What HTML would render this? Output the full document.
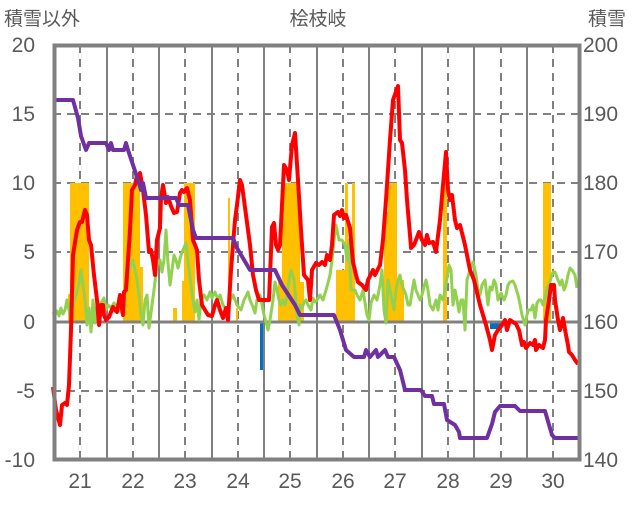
<!DOCTYPE html>
<html><head><meta charset="utf-8"><style>
html,body{margin:0;padding:0;background:#fff;}
svg text{font-family:"Liberation Sans","Noto Sans CJK JP",sans-serif;fill:#595959;}
</style></head><body>
<svg width="636" height="501" viewBox="0 0 636 501" xmlns="http://www.w3.org/2000/svg">
<g font-size="19">
<text x="4" y="25">積雪以外</text>
<text x="318" y="25" text-anchor="middle">桧枝岐</text>
<text x="588" y="25">積雪</text>
</g>
<g font-size="21" text-anchor="end">
<text x="35" y="52">20</text><text x="35" y="121">15</text><text x="35" y="190">10</text>
<text x="35" y="259">5</text><text x="35" y="329">0</text><text x="35" y="398">-5</text><text x="35" y="467">-10</text>
</g>
<g font-size="21">
<text x="583" y="52">200</text><text x="583" y="121">190</text><text x="583" y="190">180</text>
<text x="583" y="259">170</text><text x="583" y="329">160</text><text x="583" y="398">150</text><text x="583" y="467">140</text>
</g>
<g font-size="21" text-anchor="middle">
<text x="80" y="488">21</text><text x="133" y="488">22</text><text x="185" y="488">23</text><text x="238" y="488">24</text><text x="290" y="488">25</text>
<text x="343" y="488">26</text><text x="395" y="488">27</text><text x="448" y="488">28</text><text x="501" y="488">29</text><text x="553" y="488">30</text>
</g>
<g stroke="#808080" stroke-width="2" stroke-dasharray="8,6" fill="none">
<path d="M53 114H580M53 183H580M53 252H580M53 391H580"/>
<path d="M80 45V460M133 45V460M185 45V460M238 45V460M290 45V460M343 45V460M395 45V460M448 45V460M501 45V460M553 45V460"/>
</g>
<g stroke="#808080" stroke-width="2" fill="none">
<path d="M107 45V460M159 45V460M212 45V460M264 45V460M317 45V460M369 45V460M422 45V460M474 45V460M527 45V460"/>
</g>
<g fill="#FFC000">
<rect x="68" y="294" width="2" height="28"/>
<rect x="70" y="183" width="19" height="139"/>
<rect x="123" y="183" width="17" height="139"/>
<rect x="140" y="267" width="3" height="55"/>
<rect x="173" y="308" width="4" height="14"/>
<rect x="182" y="281" width="2" height="41"/>
<rect x="184" y="183" width="11" height="139"/>
<rect x="228" y="198" width="2" height="124"/>
<rect x="236" y="308" width="2" height="14"/>
<rect x="278" y="280" width="4" height="42"/>
<rect x="282" y="183" width="18" height="139"/>
<rect x="300" y="282" width="4" height="40"/>
<rect x="336" y="270" width="9" height="52"/>
<rect x="345" y="183" width="3" height="139"/>
<rect x="348" y="240" width="4" height="82"/>
<rect x="352" y="183" width="3" height="139"/>
<rect x="384" y="212" width="4" height="110"/>
<rect x="388" y="183" width="9" height="139"/>
<rect x="397" y="280" width="7" height="42"/>
<rect x="443" y="183" width="4" height="139"/>
<rect x="543" y="183" width="8" height="139"/>
</g>
<g fill="#0070C0">
<rect x="260" y="322" width="3" height="48"/>
<rect x="490" y="322" width="11" height="7"/>
</g>
<path d="M53 322H580" stroke="#808080" stroke-width="3"/>
<polyline fill="none" stroke="#92D050" stroke-width="3" stroke-linejoin="round" points="53,312 55,315 57,311 59,316 61,308 63,314 65,310 67,300 70,315 73,305 76,295 79,283 81,270 83,285 85,300 87,325 89,308 91,332 93,300 95,323 97,305 99,315 101,303 104,298 106,310 108,305 111,308 114,303 117,308 119,305 121,312 123,300 125,290 127,275 130,268 133,260 135,270 137,280 139,295 141,315 143,325 145,300 147,295 149,328 152,305 154,290 157,265 160,260 162,272 164,260 166,230 168,263 170,285 172,270 174,255 176,260 178,268 181,255 183,250 186,243 189,270 191,285 193,300 195,312 197,300 199,320 201,300 204,295 207,300 210,292 212,298 215,292 218,300 220,295 223,305 226,310 229,305 231,298 233,295 237,305 241,310 244,300 248,292 250,300 253,307 255,313 257,300 260,295 262,305 264,315 266,322 268,330 270,320 273,300 275,282 277,290 279,300 281,305 283,300 285,305 287,296 289,280 291,270 294,280 297,315 299,325 300,305 302,308 304,303 306,300 308,305 311,310 313,298 315,302 317,300 320,295 323,300 326,290 328,283 330,275 332,260 334,240 336,225 339,240 342,240 345,245 347,260 349,240 351,290 353,290 355,290 357,295 360,300 363,290 365,303 367,315 369,320 371,303 374,295 377,300 380,285 382,270 384,310 386,323 388,280 390,290 392,300 394,310 396,290 398,280 400,275 402,285 404,290 406,295 408,305 410,305 412,292 414,280 416,290 418,295 420,300 422,295 424,287 426,280 428,290 430,305 433,310 436,300 438,310 440,295 443,300 445,290 447,278 449,265 451,270 453,305 455,290 457,300 459,312 461,300 463,300 465,330 467,280 470,270 473,262 476,275 478,290 480,295 482,285 485,280 488,305 490,287 492,290 494,280 496,285 498,300 501,293 504,300 506,295 508,285 510,282 513,281 515,285 518,295 520,304 522,315 525,325 528,310 531,310 533,305 535,318 537,303 539,300 541,300 543,305 545,298 547,288 549,285 551,278 553,272 555,272 558,280 560,285 562,280 564,290 566,285 568,275 570,268 572,270 575,275 577,288"/>
<polyline fill="none" stroke="#FF0000" stroke-width="4" stroke-linejoin="round" points="53,387 56,410 60,425 62,405 65,403 67,405 69,385 71,330 73,255 77,230 80,222 82,222 85,210 87,215 89,240 91,245 94,275 97,300 99,325 101,305 103,305 104,315 106,320 109,317 113,307 115,310 117,312 120,295 123,315 124,292 126,290 130,230 132,190 135,185 137,175 139,180 140,173 143,190 146,215 149,252 151,250 153,260 155,275 157,240 160,228 161,198 163,185 166,203 168,197 171,206 174,213 177,212 180,193 182,190 184,192 187,188 190,200 193,240 197,250 199,280 202,305 205,310 208,315 212,316 215,305 217,300 220,310 223,318 226,308 228,320 231,270 235,220 237,205 240,180 242,185 246,215 250,245 253,275 256,290 259,300 262,300 265,300 269,300 272,227 274,223 276,245 278,250 280,245 284,165 287,170 289,180 292,145 295,133 298,180 301,230 304,275 308,280 310,300 312,270 316,263 319,265 322,262 325,265 327,255 330,260 332,245 334,215 338,212 340,216 342,210 344,218 346,215 350,228 351,240 353,262 356,275 358,282 362,285 366,290 368,280 373,270 375,275 377,271 380,265 383,240 386,200 390,140 393,100 398,86 400,140 402,143 405,170 407,200 410,235 411,248 414,245 416,240 419,232 422,240 425,245 427,235 429,243 433,242 436,252 440,220 443,185 446,152 448,190 450,200 452,195 455,220 457,228 460,225 465,245 470,270 474,280 480,305 483,315 486,325 490,340 492,350 495,335 498,330 502,325 505,320 507,330 510,320 513,322 516,324 519,330 520,335 522,345 524,342 526,348 530,343 533,345 535,340 536,350 539,345 543,348 545,340 546,320 549,300 551,285 554,285 555,300 558,320 560,330 563,318 566,335 568,345 569,352 572,355 575,360 578,364"/>
<polyline fill="none" stroke="#7030A0" stroke-width="4" stroke-linejoin="round" points="53,100 73,100 78,118 81,136 86,150 89,143 106,143 109,150 111,143 113,150 124,150 126,143 128,150 133,165 138,180 141,190 143,183 146,198 176,198 179,205 188,205 193,230 196,238 233,238 237,248 250,270 275,270 282,285 295,305 300,315 334,315 340,330 346,350 354,357 364,357 366,350 370,357 376,350 378,357 385,350 388,357 394,357 400,370 405,390 421,390 425,396 432,396 434,404 444,404 447,420 455,425 459,432 460,438 487,438 492,424 495,412 500,406 515,406 520,411 545,411 552,435 555,438 578,438"/>
<rect x="54.5" y="45.5" width="525" height="414" fill="none" stroke="#808080" stroke-width="4"/>
</svg>
</body></html>
